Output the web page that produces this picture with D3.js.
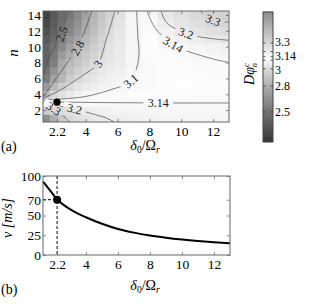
<!DOCTYPE html>
<html>
<head>
<meta charset="utf-8">
<script src="https://cdn.jsdelivr.net/npm/d3@7/dist/d3.min.js"></script>
<style>
  body { margin: 0; background: #fff; }
  svg text { font-family: "Liberation Serif", "Times New Roman", "DejaVu Serif", serif; }
</style>
</head>
<body>
<svg id="chart" width="314" height="304" font-family="Liberation Serif"></svg>
<script>
// ---- data ----
var colX = [1.5, 2, 2.5, 3, 3.5, 4, 4.5, 5, 5.5, 6, 7, 8, 9, 10, 11, 12, 13];
var rowN = [1, 2, 3, 4, 5, 6, 7, 8, 9, 10, 11, 12, 13, 14];
var dphi = [
  [3.66, 3.50, 3.38, 3.30, 3.26, 3.24, 3.22, 3.21, 3.20, 3.19, 3.18, 3.17, 3.165, 3.16, 3.16, 3.155, 3.155],
  [3.35, 3.30, 3.27, 3.24, 3.22, 3.20, 3.19, 3.18, 3.17, 3.165, 3.16, 3.155, 3.15, 3.15, 3.15, 3.15, 3.15],
  [3.15, 3.145, 3.14, 3.14, 3.14, 3.14, 3.14, 3.14, 3.14, 3.14, 3.14, 3.14, 3.14, 3.14, 3.14, 3.14, 3.14],
  [2.85, 2.98, 3.02, 3.05, 3.08, 3.095, 3.10, 3.105, 3.11, 3.11, 3.115, 3.12, 3.125, 3.125, 3.13, 3.13, 3.13],
  [2.70, 2.85, 2.94, 2.99, 3.03, 3.05, 3.07, 3.08, 3.09, 3.095, 3.105, 3.11, 3.115, 3.12, 3.12, 3.125, 3.13],
  [2.55, 2.75, 2.84, 2.93, 2.98, 3.02, 3.04, 3.06, 3.075, 3.085, 3.10, 3.11, 3.115, 3.12, 3.125, 3.13, 3.13],
  [2.49, 2.66, 2.81, 2.89, 2.94, 2.985, 3.015, 3.04, 3.058, 3.073, 3.098, 3.11, 3.118, 3.125, 3.13, 3.134, 3.135],
  [2.43, 2.56, 2.78, 2.85, 2.90, 2.95, 2.99, 3.02, 3.04, 3.06, 3.095, 3.11, 3.12, 3.13, 3.135, 3.138, 3.14],
  [2.41, 2.53, 2.70, 2.80, 2.87, 2.92, 2.965, 3.00, 3.03, 3.055, 3.092, 3.115, 3.128, 3.138, 3.148, 3.154, 3.163],
  [2.40, 2.50, 2.62, 2.74, 2.83, 2.89, 2.94, 2.98, 3.02, 3.05, 3.09, 3.12, 3.135, 3.145, 3.16, 3.17, 3.185],
  [2.35, 2.45, 2.56, 2.67, 2.76, 2.845, 2.905, 2.96, 3.01, 3.045, 3.09, 3.125, 3.152, 3.178, 3.20, 3.215, 3.233],
  [2.30, 2.40, 2.50, 2.60, 2.70, 2.80, 2.87, 2.94, 3.00, 3.04, 3.09, 3.13, 3.17, 3.21, 3.24, 3.26, 3.28],
  [2.25, 2.37, 2.47, 2.56, 2.66, 2.77, 2.85, 2.92, 2.98, 3.025, 3.09, 3.14, 3.195, 3.235, 3.265, 3.29, 3.31],
  [2.20, 2.35, 2.45, 2.52, 2.62, 2.74, 2.83, 2.90, 2.96, 3.01, 3.09, 3.15, 3.22, 3.26, 3.29, 3.32, 3.34]
];

// contour lines, [delta0/Omega_r, n]
var c25 = [[1.32, 6.05], [1.51, 7.69], [1.76, 8.95], [2.20, 10.46], [2.48, 11.6], [2.64, 12.73], [2.89, 14.5]];
var c28 = [[1.32, 3.66], [1.95, 5.42], [2.83, 7.94], [3.49, 9.83], [3.96, 12.1], [4.40, 14.5]];
var c30 = [[1.32, 3.53], [2.2, 4.3], [3.2, 5.55], [4.14, 6.81], [4.77, 7.82], [5.34, 11.2], [5.84, 14.5]];
var c31 = [[1.32, 3.28], [3.83, 3.66], [5.53, 4.54], [6.84, 5.67], [7.22, 7.44], [7.35, 9.3], [7.28, 11.2], [7.2, 14.5]];
var c314a = [[7.85, 14.5], [8.05, 13.5], [8.35, 12.4], [8.8, 11.4], [9.5, 10.3], [10.3, 9.5], [11.2, 8.9], [12.1, 8.4], [13, 8.0]];
var c32a = [[8.75, 14.5], [8.9, 13.6], [9.2, 12.8], [9.7, 12.2], [10.3, 11.7], [11, 11.3], [12, 11], [13, 10.8]];
var c33a = [[11.2, 14.5], [11.5, 13.9], [12, 13.35], [12.5, 13.15], [13, 13.1]];
var c314b = [[1.32, 3.05], [3, 3.0], [5, 2.95], [7, 2.92], [8.55, 2.9], [10, 2.9], [13, 2.9]];
var c32b = [[1.32, 2.85], [2.2, 2.55], [3.3, 2.15], [4.3, 1.6], [5.3, 1.0], [5.8, 0.5]];
var c33b = [[1.32, 2.55], [1.7, 2.4], [2.0, 2.2], [2.4, 1.6], [2.8, 0.9], [3.0, 0.5]];

// label text, x, n, angle
var contourLabels = [
  ['2.5', 2.48, 11.6, -69], ['2.8', 3.49, 9.83, -61], ['3', 4.77, 7.82, -55],
  ['3.1', 6.84, 5.67, -40], ['3.14', 9.5, 10.3, 30], ['3.2', 10.3, 11.7, 19],
  ['3.3', 12, 13.35, 22], ['3.14', 8.55, 2.9, 0], ['3.2', 3.3, 2.15, 14], ['3.3', 2.0, 2.2, 32]
];

var operatingPoint = [2.2, 3];
var xTicks = [2.2, 4, 6, 8, 10, 12];
var nTicks = [2, 4, 6, 8, 10, 12, 14];
var cbTicks = [3.3, 3.2, 3.14, 3.1, 3, 2.8, 2.5];
var cbLabels = [3.3, 3.14, 3, 2.8, 2.5];

var speedX = [1.32, 1.5, 2, 2.2, 2.5, 3, 3.5, 4, 5, 6, 7, 8, 9, 10, 11, 12, 13];
var speedV = [93, 88.5, 75.5, 70, 65, 58, 52.5, 47.8, 39.5, 33, 28.3, 24.7, 21.9, 19.6, 17.7, 16.1, 14.8];
var vTicks = [0, 25, 50, 70, 100];
var operatingSpeed = 70;

var serif = '"Liberation Serif", "Times New Roman", serif';

// ---- chart ----
var svg = d3.select('#chart');
var defs = svg.append('defs');

var xTop = d3.scaleLinear().domain([1.32, 13]).range([43, 229]);
var yTop = d3.scaleLinear().domain([0.5, 14.5]).range([122, 11]);

var gray = d3.scaleLinear()
  .domain([2.15, 2.5, 2.8, 3.0, 3.12, 3.3, 3.66])
  .range(['#363636', '#737373', '#adadad', '#dcdcdc', '#fdfdfd', '#d8d8d8', '#8e8e8e']);

defs.append('clipPath').attr('id', 'clipTop')
  .append('rect').attr('x', 43).attr('y', 11).attr('width', 186).attr('height', 111);

// heatmap cells
var cells = [];
rowN.forEach(function (n, r) {
  colX.forEach(function (cx, c) {
    var x0 = c === 0 ? xTop.domain()[0] : (colX[c - 1] + cx) / 2;
    var x1 = c === colX.length - 1 ? xTop.domain()[1] : (cx + colX[c + 1]) / 2;
    cells.push({ x0: x0, x1: x1, n: n, v: dphi[r][c] });
  });
});

var topG = svg.append('g').attr('clip-path', 'url(#clipTop)');
topG.append('g').selectAll('rect')
  .data(cells)
  .join('rect')
  .attr('x', d => xTop(d.x0))
  .attr('y', d => yTop(d.n + 0.5))
  .attr('width', d => xTop(d.x1) - xTop(d.x0) + 0.6)
  .attr('height', d => yTop(d.n - 0.5) - yTop(d.n + 0.5) + 0.6)
  .attr('fill', d => gray(d.v));

// mask so lines break under their labels
var mask = defs.append('mask').attr('id', 'labelMask')
  .attr('maskUnits', 'userSpaceOnUse')
  .attr('x', 0).attr('y', 0).attr('width', 314).attr('height', 304);
mask.append('rect').attr('x', 0).attr('y', 0).attr('width', 314).attr('height', 304).attr('fill', 'white');
mask.selectAll('rect.hole')
  .data(contourLabels)
  .join('rect')
  .attr('class', 'hole')
  .attr('x', d => -d[0].length * 3.2 - 2)
  .attr('y', -5)
  .attr('width', d => d[0].length * 6.4 + 4)
  .attr('height', 10)
  .attr('fill', 'black')
  .attr('transform', d => `translate(${xTop(d[1])},${yTop(d[2])}) rotate(${d[3]})`);

var contourLine = d3.line()
  .x(d => xTop(d[0]))
  .y(d => yTop(d[1]))
  .curve(d3.curveCatmullRom.alpha(0.5));

topG.append('g')
  .attr('mask', 'url(#labelMask)')
  .selectAll('path')
  .data([c25, c28, c30, c31, c314a, c32a, c33a, c314b, c32b, c33b])
  .join('path')
  .attr('d', contourLine)
  .attr('fill', 'none')
  .attr('stroke', '#4a4a4a')
  .attr('stroke-width', 0.7);

topG.append('g').selectAll('text')
  .data(contourLabels)
  .join('text')
  .attr('transform', d => `translate(${xTop(d[1])},${yTop(d[2])}) rotate(${d[3]})`)
  .attr('text-anchor', 'middle')
  .attr('dy', '0.35em')
  .attr('font-size', 12)
  .attr('font-family', serif)
  .attr('fill', '#1a1a1a')
  .text(d => d[0]);

svg.append('circle')
  .attr('cx', xTop(operatingPoint[0]))
  .attr('cy', yTop(operatingPoint[1]))
  .attr('r', 3.6)
  .attr('fill', '#000');

function boxAxes(g, x, y, xt, yt, yfmt) {
  var x0 = x.range()[0], x1 = x.range()[1], y0 = y.range()[0], y1 = y.range()[1];
  g.append('g').attr('transform', `translate(0,${y0})`)
    .call(d3.axisBottom(x).tickValues(xt).tickSize(-3).tickPadding(4)
      .tickFormat(d => d === 2.2 ? '2.2' : d3.format('d')(d)));
  g.append('g').attr('transform', `translate(0,${y1})`)
    .call(d3.axisTop(x).tickValues(xt).tickSize(-3).tickFormat(''));
  g.append('g').attr('transform', `translate(${x0},0)`)
    .call(d3.axisLeft(y).tickValues(yt).tickSize(-3).tickPadding(2).tickFormat(yfmt));
  g.append('g').attr('transform', `translate(${x1},0)`)
    .call(d3.axisRight(y).tickValues(yt).tickSize(-3).tickFormat(''));
  g.selectAll('.domain').remove();
  g.selectAll('g').attr('font-family', serif);
  g.selectAll('.tick line').attr('stroke', '#555').attr('stroke-width', 0.7);
  g.selectAll('.tick text').attr('font-size', 13.5).attr('font-family', serif).attr('fill', '#000');
  g.append('rect')
    .attr('x', x0).attr('y', y1)
    .attr('width', x1 - x0).attr('height', y0 - y1)
    .attr('fill', 'none').attr('stroke', '#666').attr('stroke-width', 1);
}

boxAxes(svg.append('g'), xTop, yTop, xTicks, nTicks, d3.format('d'));

// colorbar
var cbY = d3.scaleLinear().domain([2.15, 3.66]).range([142, 12]);
var cbSteps = d3.range(142, 12, -1);
var cb = svg.append('g');
cb.selectAll('rect.step')
  .data(cbSteps)
  .join('rect')
  .attr('class', 'step')
  .attr('x', 263).attr('width', 10)
  .attr('y', d => d - 1.4).attr('height', 1.5)
  .attr('fill', d => gray(cbY.invert(d - 0.5)));
cb.selectAll('line.tl')
  .data(cbTicks)
  .join('line')
  .attr('class', 'tl')
  .attr('x1', 263).attr('x2', 265.5)
  .attr('y1', d => cbY(d)).attr('y2', d => cbY(d))
  .attr('stroke', '#333').attr('stroke-width', 0.8);
cb.selectAll('line.tr')
  .data(cbTicks)
  .join('line')
  .attr('class', 'tr')
  .attr('x1', 270.5).attr('x2', 273)
  .attr('y1', d => cbY(d)).attr('y2', d => cbY(d))
  .attr('stroke', '#333').attr('stroke-width', 0.8);
cb.append('rect')
  .attr('x', 263).attr('y', 12).attr('width', 10).attr('height', 130)
  .attr('fill', 'none').attr('stroke', '#444').attr('stroke-width', 1);
cb.selectAll('text')
  .data(cbLabels)
  .join('text')
  .attr('x', 275)
  .attr('y', d => cbY(d) + (d === 3.3 ? -1 : d === 3.14 ? -0.5 : d === 3 ? 1.5 : 0))
  .attr('dy', '0.33em')
  .attr('font-size', 12)
  .attr('font-family', serif)
  .text(d => d);

var cbTitle = svg.append('text')
  .attr('transform', 'translate(254,74) rotate(-90)')
  .attr('text-anchor', 'middle')
  .attr('font-size', 14)
  .attr('font-family', serif)
  .attr('font-style', 'italic');
cbTitle.append('tspan').text('Dφ');
cbTitle.append('tspan').attr('font-size', 8.5).attr('dy', -5).text('c');
cbTitle.append('tspan').attr('font-size', 8.5).attr('dx', -4).attr('dy', 8).text('n');

// axis titles
function deltaLabel(x, y) {
  var t = svg.append('text').attr('x', x).attr('y', y).attr('text-anchor', 'middle')
    .attr('font-size', 14).attr('font-family', serif);
  t.append('tspan').attr('font-style', 'italic').text('δ');
  t.append('tspan').attr('font-size', 9.5).attr('dy', 3).text('0');
  t.append('tspan').attr('dy', -3).text('/Ω');
  t.append('tspan').attr('font-size', 9.5).attr('font-style', 'italic').attr('dy', 3).text('r');
}
deltaLabel(145, 150);
svg.append('text')
  .attr('transform', 'translate(18,53) rotate(-90)')
  .attr('text-anchor', 'middle')
  .attr('font-size', 15)
  .attr('font-family', serif)
  .attr('font-style', 'italic')
  .text('n');
svg.append('text').attr('x', 1).attr('y', 151).attr('font-size', 14).attr('font-family', serif).text('(a)');

// bottom panel
var xBot = d3.scaleLinear().domain([1.32, 13]).range([43, 230]);
var yBot = d3.scaleLinear().domain([0, 100]).range([255, 176]);

var bot = svg.append('g');
bot.append('line')
  .attr('x1', xBot(2.2)).attr('x2', xBot(2.2))
  .attr('y1', yBot(100)).attr('y2', yBot(0))
  .attr('stroke', '#333').attr('stroke-width', 1.2).attr('stroke-dasharray', '3,2');
bot.append('line')
  .attr('x1', xBot(1.32)).attr('x2', xBot(2.2))
  .attr('y1', yBot(operatingSpeed)).attr('y2', yBot(operatingSpeed))
  .attr('stroke', '#333').attr('stroke-width', 1.2).attr('stroke-dasharray', '3,2');

var speedLine = d3.line()
  .x(d => xBot(d[0]))
  .y(d => yBot(d[1]))
  .curve(d3.curveMonotoneX);
bot.append('path')
  .datum(speedX.map((x, i) => [x, speedV[i]]))
  .attr('d', speedLine)
  .attr('fill', 'none')
  .attr('stroke', '#000')
  .attr('stroke-width', 2);

bot.append('circle')
  .attr('cx', xBot(2.2)).attr('cy', yBot(operatingSpeed))
  .attr('r', 4).attr('fill', '#000');

boxAxes(svg.append('g'), xBot, yBot, xTicks, vTicks, d3.format('d'));

deltaLabel(145, 290);
svg.append('text')
  .attr('transform', 'translate(12,218) rotate(-90)')
  .attr('text-anchor', 'middle')
  .attr('font-size', 14)
  .attr('font-family', serif)
  .attr('font-style', 'italic')
  .text('v [m/s]');
svg.append('text').attr('x', 1).attr('y', 294).attr('font-size', 14).attr('font-family', serif).text('(b)');
</script>
</body>
</html>
